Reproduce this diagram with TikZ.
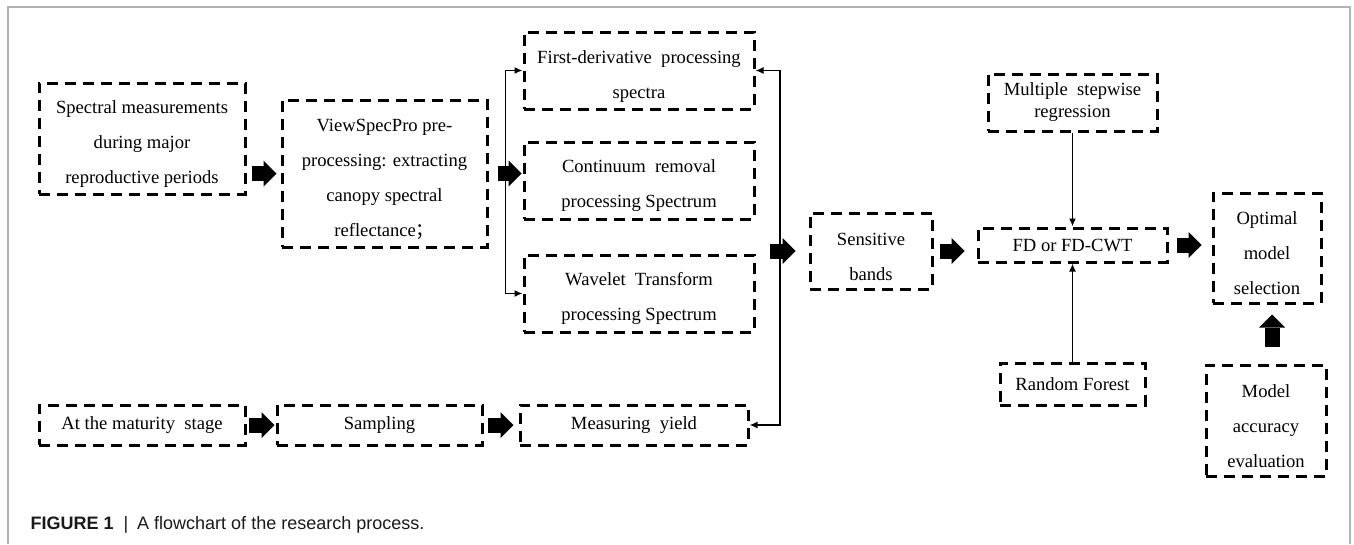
\documentclass[tikz,border=0pt]{standalone}
\usepackage{fontspec}
\setmainfont{Liberation Serif}
\newfontfamily\capfont{Liberation Sans}
\newfontfamily\cjkfont{Noto Sans CJK SC}
\usepackage{tikz}
\usetikzlibrary{positioning, arrows.meta, calc}
\newcommand\topgap{\rule{0pt}{24pt}}

\begin{document}
\begin{tikzpicture}[
  x=1pt, y=-1pt,
  font=\fontsize{18.6}{35}\selectfont,
  box/.style={draw, line width=3pt, dash pattern=on 11pt off 7pt,
              align=center, inner sep=0pt},
  link/.style={line width=1.5pt, -{Latex[length=8pt, width=7pt]}},
  twolink/.style={line width=1.5pt, {Latex[length=8pt, width=7pt]}-{Latex[length=8pt, width=7pt]}},
  blk/.style={line width=15pt, -{Triangle[length=13pt, width=26pt, line width=0pt]}}]

\useasboundingbox (0,0) rectangle (1354,544);
\draw[gray!60, line width=1.5pt] (8,544) -- (8,7) -- (1350,7) -- (1350,544);

% spectral branch
\node[box, minimum width=206pt, minimum height=111pt] (spec) at (142,138.5)
  {\topgap Spectral measurements\\during major\\reproductive periods};
\node[box, minimum width=205pt, minimum height=147pt] (view) at (384.5,173.5)
  {\topgap ViewSpecPro pre-\\processing: extracting\\canopy spectral\\reflectance{\cjkfont ；}};
\node[box, minimum width=230pt, minimum height=77pt] (fdsp) at (639,70.5)
  {\topgap First-derivative\ \ processing\\spectra};
\node[box, minimum width=230pt, minimum height=77pt] (crsp) at (639,180.5)
  {\topgap Continuum\ \ removal\\processing Spectrum};
\node[box, minimum width=230pt, minimum height=77pt] (wtsp) at (639,293.5)
  {\topgap Wavelet\ \ Transform\\processing Spectrum};

% yield branch
\node[box, minimum width=206pt, minimum height=40pt] (mature) at (142,425)
  {At the maturity\ \ stage};
\node[box, minimum width=205pt, minimum height=40pt] (sampling) at (379.5,425)
  {Sampling};
\node[box, minimum width=228pt, minimum height=40pt] (yield) at (634,425)
  {Measuring\ \ yield};

% modelling
\node[box, minimum width=122pt, minimum height=76pt] (sens) at (871,251)
  {\topgap Sensitive\\bands};
\node[box, minimum width=189pt, minimum height=34pt] (fdcwt) at (1072.5,245)
  {FD or FD-CWT};
\node[box, minimum width=169pt, minimum height=57pt,
      font=\fontsize{18.6}{22}\selectfont] (msr) at (1072.5,102.5)
  {Multiple\ \ stepwise\\regression};
\node[box, minimum width=145pt, minimum height=42pt] (rf) at (1072.5,384)
  {Random Forest};
\node[box, minimum width=108pt, minimum height=110pt] (optsel) at (1267,248)
  {\topgap Optimal\\model\\selection};
\node[box, minimum width=120pt, minimum height=111pt] (acceval) at (1266,420.5)
  {\topgap Model\\accuracy\\evaluation};

\node[anchor=base west, font=\capfont\fontsize{18}{20}\selectfont,
      text=black!90] (caption) at (27,529)
  {\textbf{FIGURE 1}\hspace{10pt}|\hspace{9pt}A flowchart of the research process.};

% brackets
\coordinate (lbx) at ($(view.east)!0.5!(crsp.west)$);
\coordinate (rbx) at (780,0);
\draw[twolink] (fdsp.west) -| (lbx) |- (wtsp.west);
\draw[twolink] (fdsp.east) -- (fdsp.east -| rbx) |- (yield.east);
\coordinate (merge) at ([xshift=-10pt]rbx |- sens);

% block arrows
\draw[blk, shorten <=5pt, shorten >=4pt] (spec.east |- view) -- (view.west);
\draw[blk, shorten <=9pt, shorten >=1pt] (view.east) -- (view.east -| crsp.west);
\draw[blk, shorten >=13pt] (merge) -- (sens.west);
\draw[blk, shorten <=6pt, shorten >=12pt] (sens.east) -- (sens.east -| fdcwt.west);
\draw[blk, shorten <=8pt, shorten >=10pt] (fdcwt.east) -- (fdcwt.east -| optsel.west);
\draw[blk, shorten <=17pt, shorten >=10pt] ([xshift=6pt]acceval.north) -- ([xshift=6pt]acceval.north |- optsel.south);
\draw[blk, shorten <=2pt, shorten >=1pt] (mature.east) -- (sampling.west);
\draw[blk, shorten <=4pt, shorten >=5pt] (sampling.east) -- (yield.west);

% thin arrows
\draw[link] (msr) -- (fdcwt);
\draw[link] (rf) -- (fdcwt);
\end{tikzpicture}
\end{document}
